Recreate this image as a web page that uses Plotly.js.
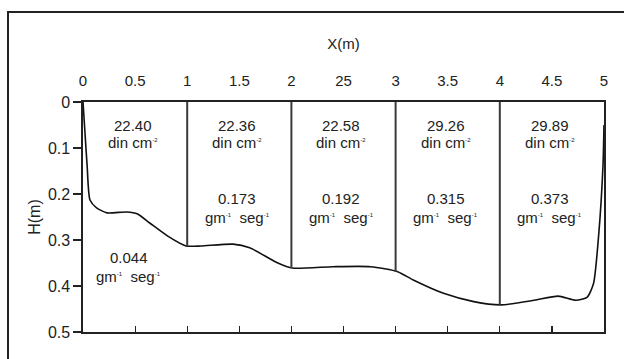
<!DOCTYPE html>
<html>
<head>
<meta charset="utf-8">
<script src="https://cdn.plot.ly/plotly-3.0.1.min.js"></script>
<style>
  html, body { margin: 0; padding: 0; background: #ffffff; }
  #wrap { position: relative; width: 624px; height: 359px; overflow: hidden; }
  #frame { position: absolute; left: 7px; top: 11px; width: 640px; height: 400px;
           border-left: 2px solid #222; border-top: 2px solid #222; box-sizing: border-box; }
  #chart { position: absolute; left: 0; top: 0; width: 624px; height: 359px; }
</style>
</head>
<body>
<div id="wrap">
  <div id="frame"></div>
  <div id="chart"></div>
</div>
<script>
// Channel profile: distance across (m) and depth (m)
const profileX = [0, 0.02, 0.04, 0.067, 0.13, 0.23, 0.42, 0.52, 0.64, 0.81, 0.99, 1.13, 1.44, 1.6, 1.87, 2.01,
                  2.4, 2.76, 3.02, 3.17, 3.46, 3.75, 4.01, 4.33, 4.56, 4.73, 4.84, 4.9, 4.95, 4.99, 5.0];
const profileH = [0.0, 0.07, 0.14, 0.213, 0.23, 0.241, 0.239, 0.243, 0.263, 0.291, 0.313, 0.313, 0.309, 0.317, 0.35, 0.361,
                  0.358, 0.358, 0.369, 0.387, 0.416, 0.434, 0.441, 0.431, 0.422, 0.431, 0.424, 0.394, 0.286, 0.14, 0.05];

// Section dividers and their depth at the divider
const dividerX = [1, 2, 3, 4];
const dividerH = [0.313, 0.361, 0.369, 0.441];

// Per-section values
const shearStress = ["22.40", "22.36", "22.58", "29.26", "29.89"];   // din cm^-2
const flowRate    = ["0.044", "0.173", "0.192", "0.315", "0.373"];   // gm^-1 seg^-1

// Tick labels (as printed)
const xTickVals = [0, 0.5, 1, 1.5, 2, 2.5, 3, 3.5, 4, 4.5, 5];
const xTickText = ["0", "0.5", "1", "1.5", "2", "25", "3", "3.5", "4", "4.5", "5"];
const yTickVals = [0, 0.1, 0.2, 0.3, 0.4, 0.5];
const yTickText = ["0", "0.1", "0.2", "0.3", "0.4", "0.5"];

const FONT = "Liberation Sans, Arial, sans-serif";
const TXT = "#222222";

// divider lines
const dvx = [], dvy = [];
dividerX.forEach((x, i) => { dvx.push(x, x, null); dvy.push(0, dividerH[i], null); });

const traces = [
  { x: profileX, y: profileH, type: "scatter", mode: "lines", line: { color: "#111", width: 1.6, shape: "spline", smoothing: 0.6 },
    hoverinfo: "skip", showlegend: false, xaxis: "x", yaxis: "y" },
  { x: dvx, y: dvy, type: "scatter", mode: "lines", line: { color: "#3a3a3a", width: 2 },
    hoverinfo: "skip", showlegend: false, xaxis: "x2", yaxis: "y" }
];

const sup = s => "<sup><span style='font-size:6px'>" + s + "</span></sup>";
const ann = [];
const mk = (x, y, t) => ann.push({ x: x, y: y, xref: "x", yref: "y", text: t, showarrow: false,
  xanchor: "center", yanchor: "middle", font: { family: FONT, size: 15, color: TXT } });

shearStress.forEach((v, i) => {
  const cx = i + 0.5 - 0.02;
  mk(cx, 0.052, v);
  mk(cx, 0.089, "din cm" + sup("-2"));
  if (i === 0) {
    mk(0.44, 0.337, flowRate[i]);
    mk(0.44, 0.38, "gm" + sup("-1") + "  seg" + sup("-1"));
  } else {
    mk(cx, 0.209, flowRate[i]);
    mk(cx, 0.25, "gm" + sup("-1") + "  seg" + sup("-1"));
  }
});

const layout = {
  width: 624, height: 359,
  margin: { l: 83, r: 20, t: 102, b: 27 },
  paper_bgcolor: "rgba(0,0,0,0)",
  plot_bgcolor: "#ffffff",
  font: { family: FONT, size: 15, color: TXT },
  showlegend: false,
  xaxis: {
    range: [0, 5], side: "bottom", showgrid: false, zeroline: false,
    showline: true, mirror: true, linecolor: "#222", linewidth: 1.6,
    tickmode: "array", tickvals: xTickVals, ticks: "inside", ticklen: 6, tickcolor: "#222", tickwidth: 1.2,
    showticklabels: false
  },
  xaxis2: {
    range: [0, 5], side: "top", overlaying: "x", showgrid: false, zeroline: false, showline: false,
    tickmode: "array", tickvals: xTickVals, ticktext: xTickText, ticks: "",
    ticklabelstandoff: 12,
    tickfont: { family: FONT, size: 15, color: TXT },
    title: { text: "X(m)", font: { family: FONT, size: 15, color: TXT }, standoff: 18 }
  },
  yaxis: {
    range: [0.5, 0], showgrid: false, zeroline: false,
    showline: true, mirror: true, linecolor: "#222", linewidth: 1.6,
    tickmode: "array", tickvals: yTickVals, ticktext: yTickText,
    ticks: "outside", ticklen: 8, tickcolor: "#222", tickwidth: 1.2,
    tickfont: { family: FONT, size: 16, color: TXT },
    title: { text: "H(m)", font: { family: FONT, size: 16, color: TXT }, standoff: 3 }
  },
  annotations: ann
};

Plotly.newPlot("chart", traces, layout, { displayModeBar: false, staticPlot: true });
</script>
</body>
</html>
